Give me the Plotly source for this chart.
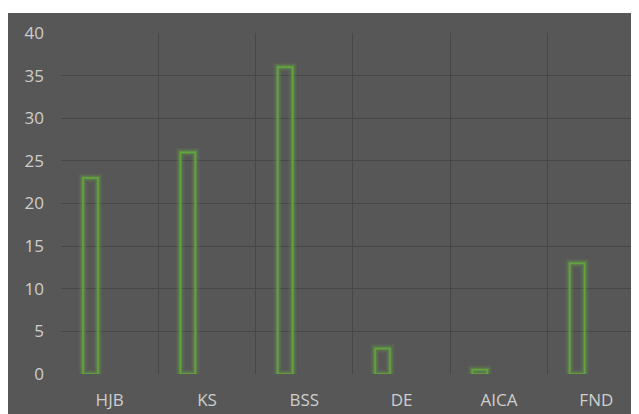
import plotly.graph_objects as go

categories = ["HJB", "KS", "BSS", "DE", "AICA", "FND"]
values = [23, 26, 36, 3, 0.5, 13]
y_ticks = [0, 5, 10, 15, 20, 25, 30, 35, 40]

BG = "#575757"
GRID = "#474747"
GREEN = "#60a53d"
TXT = "#cecece"

# page body adds an 8px margin; figure fills the rest of the 639x414 window
W, H = 631, 406
L, R, T, B = 53, 0, 25, 40
pw = W - L - R
ph = H - T - B

bar_w = 0.154
bar_off = -0.274

fig = go.Figure()
for lw, col in [(9, "rgba(110,190,60,0.08)"), (6, "rgba(110,190,60,0.14)"), (3.5, "rgba(110,190,60,0.22)")]:
    fig.add_trace(go.Bar(x=categories, y=values, width=bar_w, offset=bar_off,
                         marker=dict(color="rgba(0,0,0,0)", line=dict(color=col, width=lw)),
                         hoverinfo="skip", showlegend=False))
fig.add_trace(go.Bar(x=categories, y=values, width=bar_w, offset=bar_off,
                     marker=dict(color="rgba(0,0,0,0)", line=dict(color=GREEN, width=1.6)),
                     showlegend=False))

fig.update_layout(
    width=W, height=H,
    margin=dict(l=L, r=R, t=T, b=B, pad=0),
    paper_bgcolor=BG, plot_bgcolor=BG,
    barmode="overlay",
    font=dict(family="Open Sans", size=17, color=TXT),
    xaxis=dict(type="category", range=[-0.5, -0.5 + pw / 97.33], tickson="boundaries",
               showgrid=True, gridcolor=GRID, gridwidth=1, ticks="", showline=False,
               zeroline=False, ticklabelstandoff=14, fixedrange=True),
    yaxis=dict(range=[0, 40], tickvals=y_ticks, showgrid=True, gridcolor=GRID, gridwidth=1,
               zeroline=False, showline=False, ticks="", ticklabelstandoff=16, fixedrange=True),
    shapes=[
        dict(type="rect", xref="paper", yref="paper", x0=-L / pw - 0.01, x1=1.01,
             y0=1 + (T - 5) / ph, y1=1 + (T + 2) / ph, fillcolor="white", line=dict(width=0), layer="above"),
    ],
)

fig.write_html("out.html")
